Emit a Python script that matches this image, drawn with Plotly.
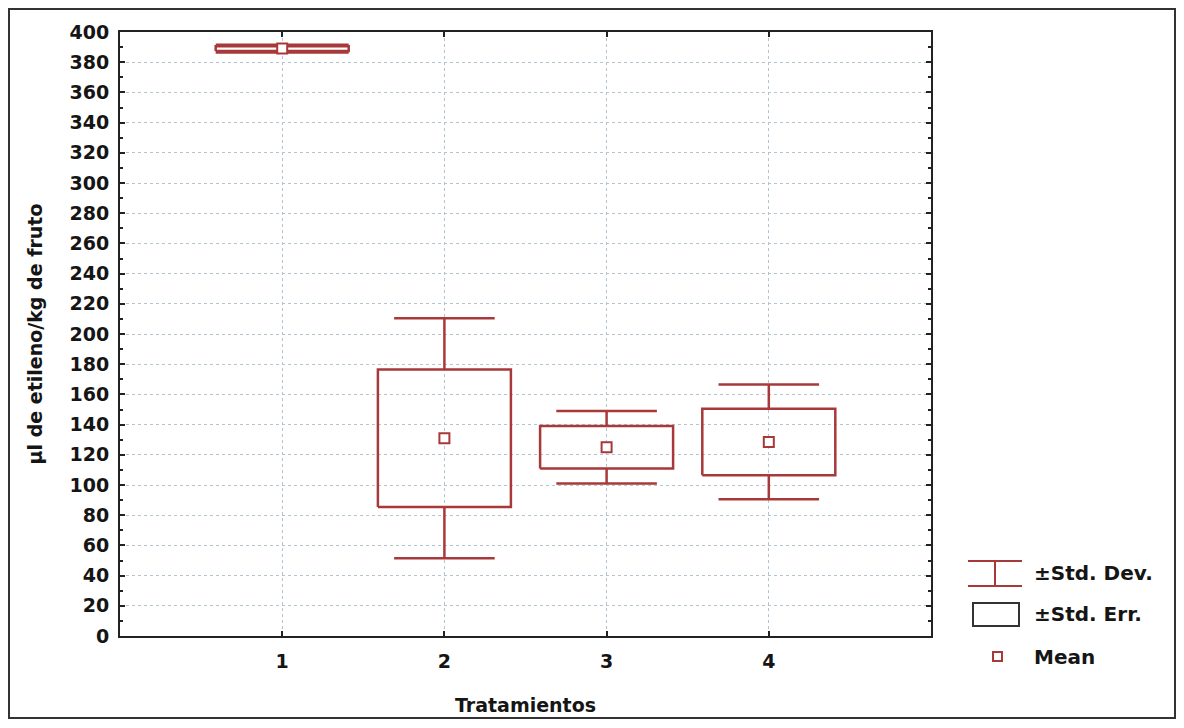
import plotly.graph_objects as go

categories = [1, 2, 3, 4]
means = [389.0, 131.0, 125.0, 128.5]
std_err = [1.5, 45.5, 14.0, 22.0]
std_dev = [2.5, 79.5, 24.0, 38.0]
y_ticks = list(range(0, 401, 20))

RED = "#a8393a"
box_half = 0.41
cap_half = 0.31

W, H = 1168, 712
L, R, T, B = 112, 245, 24, 84
PW, PH = W - L - R, H - T - B

fig = go.Figure()

# whiskers (std dev)
wx, wy = [], []
for c, m, se, sd in zip(categories, means, std_err, std_dev):
    hw = box_half if c == 1 else cap_half
    wx += [c, c, None, c, c, None, c - hw, c + hw, None, c - hw, c + hw, None]
    wy += [m + se, m + sd, None, m - se, m - sd, None, m + sd, m + sd, None, m - sd, m - sd, None]
fig.add_trace(go.Scatter(x=wx, y=wy, mode="lines", line=dict(color=RED, width=2.5),
                         hoverinfo="skip", showlegend=False))

# boxes (std err)
bx, by = [], []
for c, m, se in zip(categories, means, std_err):
    bx += [c - box_half, c + box_half, c + box_half, c - box_half, c - box_half, None]
    by += [m - se, m - se, m + se, m + se, m - se, None]
fig.add_trace(go.Scatter(x=bx, y=by, mode="lines", line=dict(color=RED, width=2.5),
                         hoverinfo="skip", showlegend=False))

# means
fig.add_trace(go.Scatter(x=categories, y=means, mode="markers",
                         marker=dict(symbol="square", size=10, color="white",
                                     line=dict(color=RED, width=2)),
                         showlegend=False))

FAM = "DejaVu Sans, Liberation Sans, Arial, sans-serif"
font = dict(family=FAM, color="#151515", size=19)

axis_common = dict(showgrid=True, gridcolor="#b4c4cf", griddash="dot", gridwidth=1,
                   zeroline=False, showline=True, linecolor="#222222", linewidth=2, mirror="allticks",
                   ticks="inside", ticklen=5, tickcolor="#222222", tickwidth=1.5,
                   automargin=False)

fig.update_layout(
    width=W, height=H,
    margin=dict(l=L, r=R, t=T, b=B),
    paper_bgcolor="white", plot_bgcolor="white",
    font=font,
    showlegend=False,
    xaxis=dict(range=[0, 5], tickmode="array", tickvals=categories,
               ticktext=[f"<b>{c}</b>" for c in categories], ticklabelstandoff=7,
               title=dict(text="<b>Tratamientos</b>", font=dict(size=19), standoff=28),
               **axis_common),
    yaxis=dict(range=[0, 400], tickmode="array", tickvals=y_ticks,
               ticktext=[f"<b>{t}</b>" for t in y_ticks], ticklabelstandoff=5,
               minor=dict(dtick=10, ticks="inside", ticklen=3, tickcolor="#222222", showgrid=False),
               title=dict(text="<b>µl de etileno/kg de fruto</b>", font=dict(size=19), standoff=22),
               **axis_common),
)

def to_paper(px, py):
    """page pixel -> paper coords (page has 8px body margin)"""
    fx, fy = px - 8, py - 8
    return (fx - L) / PW, (H - B - fy) / PH

# outer frame
fx0, fy0 = (1 - L) / PW, (H - B - (H - 2)) / PH
fx1, fy1 = (W - 1 - L) / PW, (H - B - 1) / PH
fig.add_shape(type="rect", xref="paper", yref="paper",
              x0=fx0, x1=fx1, y0=fy0, y1=fy1, line=dict(color="#333333", width=2))

# manual legend
x0, y0 = to_paper(968, 561)
x1, y1 = to_paper(1022, 586)
xm, _ = to_paper(995, 0)
for (ax0, ay0, ax1, ay1) in [(x0, y0, x1, y0), (x0, y1, x1, y1), (xm, y0, xm, y1)]:
    fig.add_shape(type="line", xref="paper", yref="paper", x0=ax0, y0=ay0, x1=ax1, y1=ay1,
                  line=dict(color=RED, width=2))
rx0, ry0 = to_paper(973, 603)
rx1, ry1 = to_paper(1019, 626)
fig.add_shape(type="rect", xref="paper", yref="paper", x0=rx0, y0=ry0, x1=rx1, y1=ry1,
              line=dict(color="#333333", width=2))
mx0, my0 = to_paper(993, 652)
mx1, my1 = to_paper(1002, 661)
fig.add_shape(type="rect", xref="paper", yref="paper", x0=mx0, y0=my0, x1=mx1, y1=my1,
              line=dict(color=RED, width=2))

for label, py in [("±Std. Dev.", 573), ("±Std. Err.", 614), ("Mean", 657)]:
    lx, ly = to_paper(1032, py)
    fig.add_annotation(text=f"<b>{label}</b>", xref="paper", yref="paper", x=lx, y=ly,
                       xanchor="left", yanchor="middle", showarrow=False,
                       font=dict(size=20, family=FAM))

fig.write_html("out.html")
